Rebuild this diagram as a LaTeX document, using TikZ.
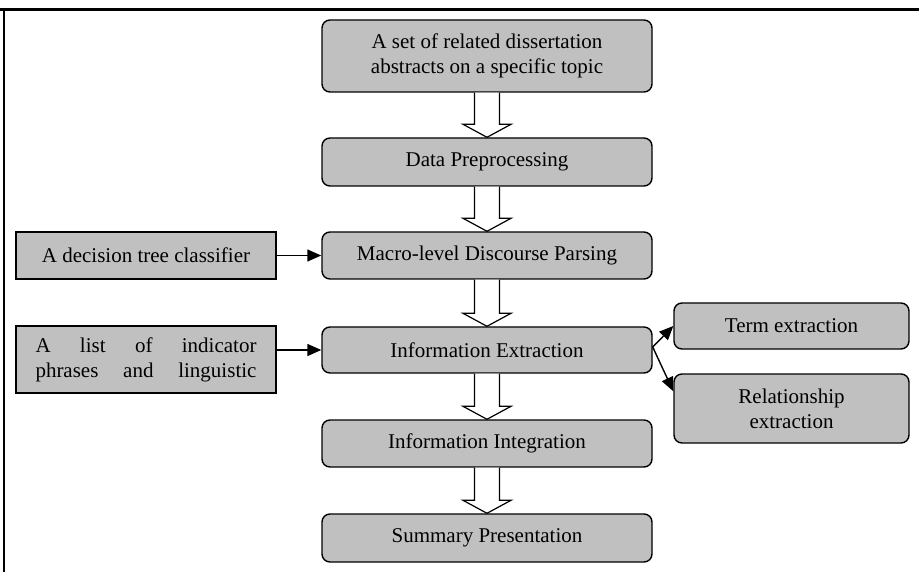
\documentclass[tikz,border=0pt]{standalone}
\usepackage{fontspec}
\setmainfont{Liberation Serif}
\usetikzlibrary{calc,arrows.meta}
\definecolor{boxgray}{RGB}{192,192,192}
\tikzset{
  base/.style={draw=black, line width=1.4pt, fill=boxgray, inner sep=0pt, align=center,
    font=\fontsize{21}{25}\selectfont},
  mainbox/.style={base, rounded corners=8pt, minimum width=330pt},
  sidebox/.style={base, rounded corners=8pt, minimum width=235pt},
  leftbox/.style={base, minimum width=260pt},
  conn/.style={draw=black, line width=1.4pt, -{Triangle[length=14pt,width=12pt]}},
  hollow/.style={draw=black, line width=1.2pt, fill=white},
}
\newcommand{\hollowarrow}[2]{%
  \draw[hollow] ($(#1.south)+(-12.5,0)$) -- ($(#2.north)+(-12.5,-13)$) -- ($(#2.north)+(-24,-13)$)
    -- (#2.north) -- ($(#2.north)+(24,-13)$) -- ($(#2.north)+(12.5,-13)$) -- ($(#1.south)+(12.5,0)$);}
\begin{document}
\begin{tikzpicture}[x=1pt,y=-1pt]
\useasboundingbox (0,0) rectangle (919,572);
% frame
\coordinate (ftl) at (0,10);
\coordinate (ftr) at (919,10);
\coordinate (fl) at (4,10);
\coordinate (fb) at (4,572);
\draw[line width=3pt] (ftl) -- (ftr);
\draw[line width=2pt] (fl) -- (fb);
% main column
\node[mainbox, minimum height=72pt] (set) at (487,56) {A set of related dissertation\\abstracts on a specific topic};
\node[mainbox, minimum height=48pt] (dp) at (487,162) {Data Preprocessing};
\node[mainbox, minimum height=47pt] (mac) at (487,255.5) {Macro-level Discourse Parsing};
\node[mainbox, minimum height=46pt] (ie) at (487,350) {Information Extraction};
\node[mainbox, minimum height=47pt] (ii) at (487,443.5) {Information Integration};
\node[mainbox, minimum height=48pt] (sp) at (487,538) {Summary Presentation};
% left boxes
\node[leftbox, minimum height=47pt] (dt) at (146,255.5) {A decision tree classifier};
\node[leftbox, minimum height=67pt] (ind) at (146,359.5) {\makebox[221pt][s]{A list of indicator}\\\makebox[221pt][s]{phrases and linguistic}};
% right boxes
\node[sidebox, minimum height=46pt] (term) at (791.5,326) {Term extraction};
\node[sidebox, minimum height=69pt] (rel) at (791.5,408.5) {Relationship\\extraction};
% hollow arrows
\hollowarrow{set}{dp}
\hollowarrow{dp}{mac}
\hollowarrow{mac}{ie}
\hollowarrow{ie}{ii}
\hollowarrow{ii}{sp}
% connectors
\draw[conn] (dt.east) -- (mac.west);
\draw[conn] (ie.west -| ind.east) -- (ie.west);
\coordinate (relin) at ($(rel.north west)+(0,18)$);
\draw[conn] ($(ie.east)+(0,-3)$) -- (term.west);
\draw[conn] ($(ie.east)+(0,-3)$) -- (relin);
\end{tikzpicture}
\end{document}
